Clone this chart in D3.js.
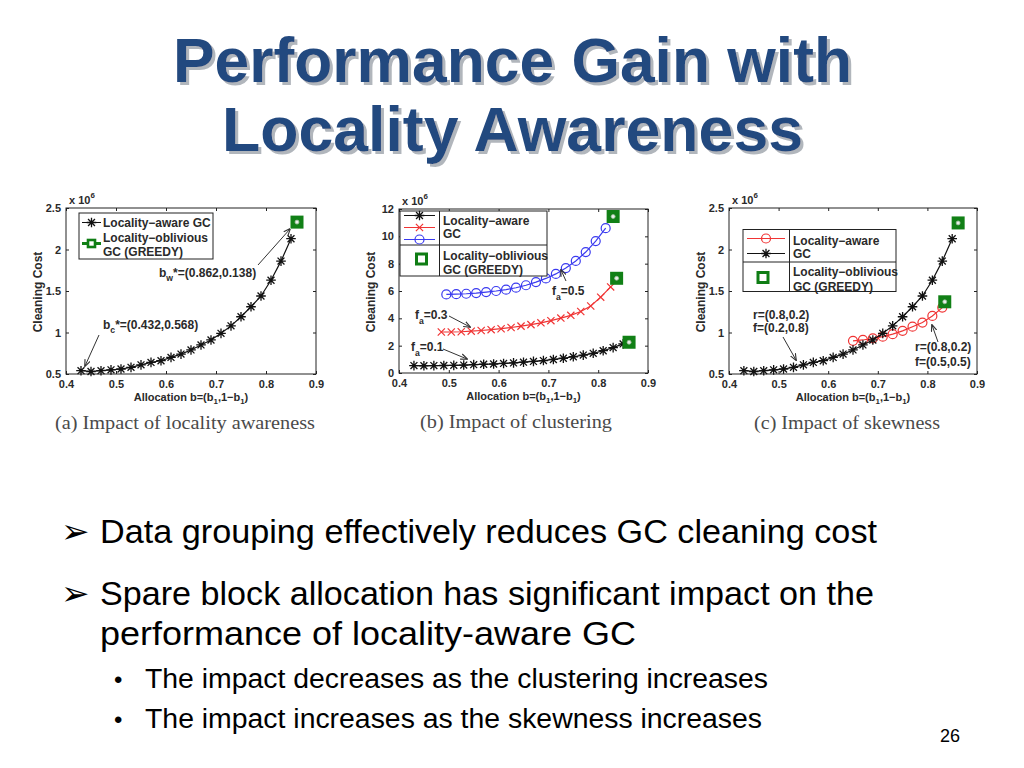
<!DOCTYPE html>
<html><head><meta charset="utf-8">
<script src="https://cdn.jsdelivr.net/npm/d3@7"></script>
<style>body{margin:0;background:#fff}svg{display:block}</style>
</head><body>
<svg id="slide" width="1024" height="768"></svg>
<script>
// ---------------- DATA ----------------
const xTickValues = [0.4, 0.5, 0.6, 0.7, 0.8, 0.9];
const yTicksSmall = [0.5, 1, 1.5, 2, 2.5];
const yTicksLarge = [0, 2, 4, 6, 8, 10, 12];

// Locality-aware GC (f_a = 0.1, default skew), x 10^6
const awareX    = [0.43,0.45,0.47,0.49,0.51,0.53,0.55,0.57,0.59,0.61,0.63,0.65,0.67,0.69,0.71,0.73,0.75,0.77,0.79,0.81,0.83,0.85];
const awareCost = [0.54,0.53,0.54,0.55,0.56,0.58,0.61,0.64,0.66,0.70,0.74,0.79,0.85,0.91,0.99,1.08,1.19,1.31,1.44,1.63,1.86,2.13];

// (b) f_a = 0.3 (red) and f_a = 0.5 (blue), x 10^6
const fa03X    = [0.485,0.505,0.525,0.545,0.565,0.585,0.605,0.625,0.645,0.665,0.685,0.705,0.725,0.745,0.765,0.785,0.805,0.825];
const fa03Cost = [3.00,3.00,3.02,3.06,3.11,3.17,3.24,3.33,3.43,3.54,3.67,3.83,4.02,4.22,4.50,4.90,5.55,6.30];
const fa05X    = [0.495,0.515,0.535,0.555,0.575,0.595,0.615,0.635,0.655,0.675,0.695,0.715,0.735,0.755,0.775,0.795,0.815];
const fa05Cost = [5.75,5.77,5.80,5.85,5.92,6.00,6.10,6.24,6.42,6.65,6.92,7.25,7.68,8.20,8.85,9.65,10.60];

// (c) r=(0.8,0.2), f=(0.5,0.5) (red)
const skewX    = [0.65,0.67,0.69,0.71,0.73,0.75,0.77,0.79,0.81,0.83];
const skewCost = [0.90,0.91,0.93,0.95,0.98,1.02,1.07,1.12,1.20,1.30];

// Locality-oblivious GC (GREEDY) points
const greedyA = [{x:0.862, y:2.33}];
const greedyB = [{x:0.862, y:2.25}, {x:0.837, y:6.93}, {x:0.830, y:11.45}];
const greedyC = [{x:0.862, y:2.32}, {x:0.835, y:1.37}];

// ---------------- DRAW ----------------
const svg = d3.select('#slide');
const SANS = "'Liberation Sans', Arial, sans-serif";
const SERIF = "'Liberation Serif', 'Times New Roman', serif";
const INK = '#2a2a2a';

const defs = svg.append('defs');
defs.append('marker')
  .attr('id','arr').attr('viewBox','0 0 10 10').attr('refX',9).attr('refY',5)
  .attr('markerWidth',7).attr('markerHeight',7).attr('orient','auto-start-reverse')
  .append('path').attr('d','M0,1 L10,5 L0,9').attr('fill','none').attr('stroke','#333').attr('stroke-width',1.6);
const flt = defs.append('filter').attr('id','shadow').attr('x','-5%').attr('y','-10%').attr('width','110%').attr('height','130%');
flt.append('feDropShadow').attr('dx',3).attr('dy',3).attr('stdDeviation',0.6).attr('flood-color','#a9adb5').attr('flood-opacity',0.9);

// Title
const titleLines = [
  {t:'Performance Gain with', x:173, y:82, w:679},
  {t:'Locality Awareness', x:222, y:151, w:581}
];
titleLines.forEach(l => {
  svg.append('text').attr('x',l.x).attr('y',l.y).attr('fill','#24497f').attr('filter','url(#shadow)')
    .attr('font-family',SANS).attr('font-weight','bold').attr('font-size',63)
    .attr('textLength',l.w).attr('lengthAdjust','spacingAndGlyphs').text(l.t);
});

function starPath(r){const d=r*0.72;return `M${-r},0L${r},0M0,${-r}L0,${r}M${-d},${-d}L${d},${d}M${-d},${d}L${d},${-d}`;}
function xPath(r){return `M${-r},${-r}L${r},${r}M${-r},${r}L${r},${-r}`;}

function drawMarker(g, type, cx, cy, color){
  if(type==='star') g.append('path').attr('d',starPath(4.8)).attr('transform',`translate(${cx},${cy})`).attr('stroke',color).attr('stroke-width',1.3).attr('fill','none');
  else if(type==='x') g.append('path').attr('d',xPath(3.6)).attr('transform',`translate(${cx},${cy})`).attr('stroke',color).attr('stroke-width',1.2).attr('fill','none');
  else if(type==='o') g.append('circle').attr('cx',cx).attr('cy',cy).attr('r',4.5).attr('stroke',color).attr('stroke-width',1.2).attr('fill','none');
}
function drawGreedy(g, cx, cy, size, sw){
  g.append('rect').attr('x',cx-size/2).attr('y',cy-size/2).attr('width',size).attr('height',size)
   .attr('fill','#fff').attr('stroke','#0f7d14').attr('stroke-width',sw);
}

function txt(g, x, y, s, opts={}){
  return g.append('text').attr('x',x).attr('y',y).attr('font-family',SANS).attr('font-weight','bold')
    .attr('font-size',opts.size||12).attr('fill',opts.fill||INK).attr('text-anchor',opts.anchor||'start').text(s);
}
function subText(g, x, y, parts, size, anchor){
  const t = g.append('text').attr('x',x).attr('y',y).attr('font-family',SANS).attr('font-weight','bold')
    .attr('font-size',size).attr('fill',INK).attr('text-anchor',anchor||'start');
  parts.forEach(p => {
    const ts = t.append('tspan').text(p.t);
    if(p.sub){ ts.attr('dy',p.dy).attr('font-size',size*0.72); }
    else if(p.dy){ ts.attr('dy',p.dy); }
  });
  return t;
}
function arrow(g, x1,y1,x2,y2){
  g.append('line').attr('x1',x1).attr('y1',y1).attr('x2',x2).attr('y2',y2)
   .attr('stroke','#333').attr('stroke-width',1).attr('marker-end','url(#arr)');
}

function drawPanel(p){
  const g = svg.append('g');
  const x = d3.scaleLinear().domain([0.4,0.9]).range([p.left,p.right]);
  const y = d3.scaleLinear().domain(p.yDomain).range([p.bottom,p.top]);
  g.append('rect').attr('x',p.left).attr('y',p.top).attr('width',p.right-p.left).attr('height',p.bottom-p.top)
   .attr('fill','#fff').attr('stroke','#222').attr('stroke-width',1);

  const styleAxis = (sel, showLabels) => {
    sel.select('.domain').remove();
    sel.selectAll('line').attr('stroke','#222');
    sel.selectAll('text').attr('font-family',SANS).attr('font-weight','bold').attr('font-size',11).attr('fill',INK);
    if(!showLabels) sel.selectAll('text').remove();
  };
  g.append('g').attr('transform',`translate(0,${p.bottom})`)
    .call(d3.axisBottom(x).tickValues(xTickValues).tickSize(-3).tickPadding(6).tickFormat(d3.format('.1f')))
    .call(s=>styleAxis(s,true));
  g.append('g').attr('transform',`translate(0,${p.top})`)
    .call(d3.axisTop(x).tickValues(xTickValues).tickSize(-3)).call(s=>styleAxis(s,false));
  g.append('g').attr('transform',`translate(${p.left},0)`)
    .call(d3.axisLeft(y).tickValues(p.yTicks).tickSize(-3).tickPadding(5).tickFormat(d=>String(d)))
    .call(s=>styleAxis(s,true));
  g.append('g').attr('transform',`translate(${p.right},0)`)
    .call(d3.axisRight(y).tickValues(p.yTicks).tickSize(-3)).call(s=>styleAxis(s,false));

  // multiplier
  subText(g, p.left+3, p.top-4, [{t:'x 10'},{t:'6',sub:true,dy:-6}], 11);
  // axis labels
  txt(g, 0, 0, 'Cleaning Cost', {size:12, anchor:'middle'})
    .attr('transform',`translate(${p.left-24},${(p.top+p.bottom)/2+1}) rotate(-90)`);
  subText(g, (p.left+p.right)/2, p.bottom+27,
    [{t:'Allocation b=(b'},{t:'1',sub:true,dy:3},{t:',1−b',dy:-3},{t:'1',sub:true,dy:3},{t:')',dy:-3}], 11, 'middle');
  // caption
  g.append('text').attr('x',p.capX).attr('y',p.bottom+55).attr('font-family',SERIF).attr('font-size',18)
    .attr('fill','#4a4a4a').attr('textLength',p.capW).attr('lengthAdjust','spacingAndGlyphs').text(p.caption);

  // series
  p.series.forEach(s => {
    const pts = s.xs.map((v,i)=>({x:v,y:s.ys[i]}));
    g.append('path').datum(pts).attr('fill','none').attr('stroke',s.color).attr('stroke-width',1.2)
      .attr('d', d3.line().x(d=>x(d.x)).y(d=>y(d.y)));
    pts.forEach(d => drawMarker(g, s.marker, x(d.x), y(d.y), s.color));
  });
  // greedy squares
  p.greedy.forEach(d => {
    g.append('rect').attr('x',x(d.x)-6.5).attr('y',y(d.y)-6.5).attr('width',13).attr('height',13).attr('fill','#118016');
    g.append('circle').attr('cx',x(d.x)).attr('cy',y(d.y)).attr('r',2).attr('fill','#e8f0e8').attr('stroke','#9ab79a').attr('stroke-width',0.8);
  });
  return {g,x,y};
}

// Panel (a)
const A = drawPanel({left:66,right:316,top:208,bottom:374,yDomain:[0.5,2.5],yTicks:yTicksSmall,
  caption:'(a) Impact of locality awareness',capX:55,capW:260,
  series:[{xs:awareX,ys:awareCost,color:'#111',marker:'star'}], greedy:greedyA});
{
  const g=A.g;
  g.append('rect').attr('x',79).attr('y',213).attr('width',134).attr('height',46).attr('fill','#fff').attr('stroke','#222');
  g.append('line').attr('x1',82).attr('x2',101).attr('y1',222.5).attr('y2',222.5).attr('stroke','#111');
  drawMarker(g,'star',91.5,222.5,'#111');
  txt(g,103,227,'Locality−aware GC');
  g.append('line').attr('x1',82).attr('x2',101).attr('y1',243.5).attr('y2',243.5).attr('stroke','#118016').attr('stroke-width',3);
  drawGreedy(g,91.5,243.5,7,2.6);
  txt(g,103,242,'Locality−oblivious');
  txt(g,103,256,'GC (GREEDY)');
  subText(g,159,277,[{t:'b'},{t:'w',sub:true,dy:4},{t:'*=(0.862,0.138)',dy:-4}],12);
  arrow(g,258,265,290,229);
  subText(g,103,329,[{t:'b'},{t:'c',sub:true,dy:4},{t:'*=(0.432,0.568)',dy:-4}],12);
  arrow(g,99,335,85,366);
}

// Panel (b)
const B = drawPanel({left:399,right:648,top:209,bottom:373,yDomain:[0,12],yTicks:yTicksLarge,
  caption:'(b) Impact of clustering',capX:420,capW:192,
  series:[{xs:awareX,ys:awareCost,color:'#111',marker:'star'},
          {xs:fa03X,ys:fa03Cost,color:'#f03434',marker:'x'},
          {xs:fa05X,ys:fa05Cost,color:'#3a3af0',marker:'o'}], greedy:greedyB});
{
  const g=B.g;
  g.append('rect').attr('x',400).attr('y',211).attr('width',147).attr('height',65).attr('fill','#fff').attr('stroke','#222');
  g.append('line').attr('x1',439.5).attr('x2',439.5).attr('y1',211).attr('y2',276).attr('stroke','#222');
  g.append('line').attr('x1',400).attr('x2',547).attr('y1',245).attr('y2',245).attr('stroke','#222');
  [['#111','star',215.5],['#f03434','x',227.5],['#3a3af0','o',239.5]].forEach(([c,m,yy])=>{
    g.append('line').attr('x1',404).attr('x2',435).attr('y1',yy).attr('y2',yy).attr('stroke',c);
    drawMarker(g,m,419.5,yy,c);
  });
  drawGreedy(g,421.5,259,10,3);
  txt(g,443,225,'Locality−aware');
  txt(g,443,238,'GC');
  txt(g,443,259.5,'Locality−oblivious');
  txt(g,443,274,'GC (GREEDY)');
  subText(g,552,295,[{t:'f'},{t:'a',sub:true,dy:5},{t:'=0.5',dy:-5}],12);
  arrow(g,566,281,561,270);
  subText(g,415,319,[{t:'f'},{t:'a',sub:true,dy:5},{t:'=0.3',dy:-5}],12);
  arrow(g,449,316,470,327);
  subText(g,411,351,[{t:'f'},{t:'a',sub:true,dy:5},{t:'=0.1',dy:-5}],12);
  arrow(g,443,349,467,359);
}

// Panel (c)
const C = drawPanel({left:729,right:977,top:208,bottom:374,yDomain:[0.5,2.5],yTicks:yTicksSmall,
  caption:'(c) Impact of skewness',capX:754,capW:186,
  series:[{xs:skewX,ys:skewCost,color:'#f03434',marker:'o'},
          {xs:awareX,ys:awareCost,color:'#111',marker:'star'}], greedy:greedyC});
{
  const g=C.g;
  g.append('rect').attr('x',743).attr('y',229.5).attr('width',153).attr('height',62).attr('fill','#fff').attr('stroke','#222');
  g.append('line').attr('x1',789.5).attr('x2',789.5).attr('y1',229.5).attr('y2',291.5).attr('stroke','#222');
  g.append('line').attr('x1',743).attr('x2',896).attr('y1',262).attr('y2',262).attr('stroke','#222');
  [['#f03434','o',238.5],['#111','star',253.5]].forEach(([c,m,yy])=>{
    g.append('line').attr('x1',747).attr('x2',785).attr('y1',yy).attr('y2',yy).attr('stroke',c);
    drawMarker(g,m,766,yy,c);
  });
  drawGreedy(g,763,277.5,10,3);
  txt(g,793,244.5,'Locality−aware');
  txt(g,793,258,'GC');
  txt(g,793,276,'Locality−oblivious');
  txt(g,793,290.5,'GC (GREEDY)');
  txt(g,753,319,'r=(0.8,0.2)');
  txt(g,753,332,'f=(0.2,0.8)');
  arrow(g,783,337,796,360);
  txt(g,915,351,'r=(0.8,0.2)');
  txt(g,915,366,'f=(0.5,0.5)');
  arrow(g,938,342,932,325);
}

// Bullets
const bullets = [
  {t:'Data grouping effectively reduces GC cleaning cost', x:100, y:543, w:777, size:33, mark:'➢', mx:61, my:543},
  {t:'Spare block allocation has significant impact on the', x:100, y:605, w:774, size:33, mark:'➢', mx:61, my:605},
  {t:'performance of locality-aware GC', x:100, y:645, w:536, size:33},
  {t:'The impact decreases as the clustering increases', x:145, y:688, w:623, size:27, mark:'•', mx:114, my:688},
  {t:'The impact increases as the skewness increases', x:145, y:728, w:617, size:27, mark:'•', mx:114, my:728}
];
bullets.forEach(b => {
  if(b.mark){
    svg.append('text').attr('x',b.mx).attr('y',b.my).attr('font-family',b.mark==='➢'?"'DejaVu Sans', sans-serif":SANS)
      .attr('font-size',b.mark==='➢'?34:24).attr('fill','#000').text(b.mark);
  }
  svg.append('text').attr('x',b.x).attr('y',b.y).attr('font-family',SANS).attr('font-size',b.size)
    .attr('fill','#000').attr('textLength',b.w).attr('lengthAdjust','spacingAndGlyphs').text(b.t);
});
svg.append('text').attr('x',940).attr('y',742).attr('font-family',SANS).attr('font-size',18).attr('fill','#000').text('26');
</script>
</body></html>
